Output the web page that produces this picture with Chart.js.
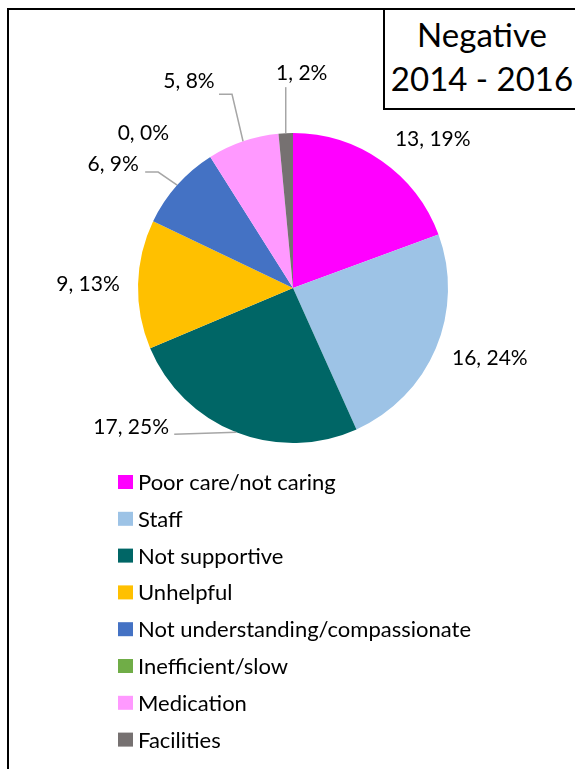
<!DOCTYPE html>
<html>
<head>
<meta charset="utf-8">
<script src="https://cdn.jsdelivr.net/npm/chart.js@4.4.1/dist/chart.umd.min.js"></script>
<style>
  html, body { margin: 0; padding: 0; background: #fff; }
  #wrap { position: relative; width: 575px; height: 769px; overflow: hidden; }
  #frame { position: absolute; left: 7px; top: 8px; width: 640px; height: 820px; border: 2px solid #000; }
  #titulo {
    position: absolute; left: 383px; top: 8px; width: 194px; height: 96px;
    border: 2px solid #000; background: #fff;
    font-family: Lato, "Noto Sans", sans-serif; font-size: 33px; line-height: 44px;
    text-align: center; color: #000; padding-top: 2px; box-sizing: content-box;
  }
  canvas { position: absolute; left: 0; top: 0; }
</style>
</head>
<body>
<div id="wrap">
  <div id="frame"></div>
  <canvas id="graficoNegativo" width="575" height="769"></canvas>
  <div id="titulo">Negative<br>2014 - 2016</div>
</div>
<script>
const categorias = [
  'Poor care/not caring',
  'Staff',
  'Not supportive',
  'Unhelpful',
  'Not understanding/compassionate',
  'Inefficient/slow',
  'Medication',
  'Facilities'
];
const quantidades = [13, 16, 17, 9, 6, 0, 5, 1];
const percentuais = [19, 24, 25, 13, 9, 0, 8, 2];

const cores = ['#FF00FF', '#9DC3E6', '#006666', '#FFC000', '#4472C4', '#70AD47', '#FF99FF', '#767171'];

// posição de cada rótulo em relação ao ponto médio da borda da fatia,
// e linha-guia (pontos relativos ao centro do rótulo) quando houver
const rotulos = [
  { dx: 51, dy: -22 },
  { dx: 54, dy: 10 },
  { dx: -105, dy: -5, guia: [[43, 7]] },
  { dx: -50, dy: 0 },
  { dx: -64, dy: -21, guia: [[32, 8], [45, 8]] },
  { dx: -67, dy: -24 },
  { dx: -54, dy: -60, guia: [[30, 13], [43, 13]] },
  { dx: 16, dy: -60, guia: [[-16, 14]] }
];

const fonte = 'Lato, "Noto Sans", sans-serif';

const rotulosPlugin = {
  id: 'rotulosPlugin',
  afterDatasetsDraw(chart) {
    const ctx = chart.ctx;
    const arcos = chart.getDatasetMeta(0).data;
    ctx.save();
    arcos.forEach((arco, i) => {
      const p = arco.getProps(['x', 'y', 'startAngle', 'endAngle', 'outerRadius'], true);
      const meio = (p.startAngle + p.endAngle) / 2;
      const ax = p.x + Math.cos(meio) * p.outerRadius;
      const ay = p.y + Math.sin(meio) * p.outerRadius;
      const r = rotulos[i];
      const lx = ax + r.dx;
      const ly = ay + r.dy;

      if (r.guia) {
        ctx.strokeStyle = '#A6A6A6';
        ctx.lineWidth = 1.5;
        ctx.beginPath();
        ctx.moveTo(lx + r.guia[0][0], ly + r.guia[0][1]);
        r.guia.slice(1).forEach(pt => ctx.lineTo(lx + pt[0], ly + pt[1]));
        ctx.lineTo(ax, ay);
        ctx.stroke();
      }

      ctx.fillStyle = '#000';
      ctx.font = '21px ' + fonte;
      ctx.textAlign = 'center';
      ctx.textBaseline = 'middle';
      ctx.fillText(quantidades[i] + ', ' + percentuais[i] + '%', lx, ly);
    });
    ctx.restore();
  }
};

// legenda vertical, uma categoria por linha
const legendaPlugin = {
  id: 'legendaPlugin',
  afterDraw(chart) {
    const ctx = chart.ctx;
    const x0 = 118;
    const y0 = 482;
    const passo = 36.8;
    ctx.save();
    ctx.font = '22px ' + fonte;
    ctx.textAlign = 'left';
    ctx.textBaseline = 'middle';
    categorias.forEach((nome, i) => {
      const y = y0 + i * passo;
      ctx.fillStyle = cores[i];
      ctx.fillRect(x0, y - 7, 15, 14);
      ctx.fillStyle = '#000';
      ctx.fillText(nome, x0 + 20, y + 1);
    });
    ctx.restore();
  }
};

new Chart(document.getElementById('graficoNegativo'), {
  type: 'pie',
  data: {
    labels: categorias,
    datasets: [{
      data: quantidades,
      backgroundColor: cores,
      borderWidth: 0
    }]
  },
  options: {
    responsive: false,
    animation: false,
    layout: { padding: { left: 138, right: 127, top: 133, bottom: 326 } },
    plugins: {
      legend: { display: false },
      tooltip: { enabled: false },
      title: { display: false }
    }
  },
  plugins: [rotulosPlugin, legendaPlugin]
});
</script>
</body>
</html>
